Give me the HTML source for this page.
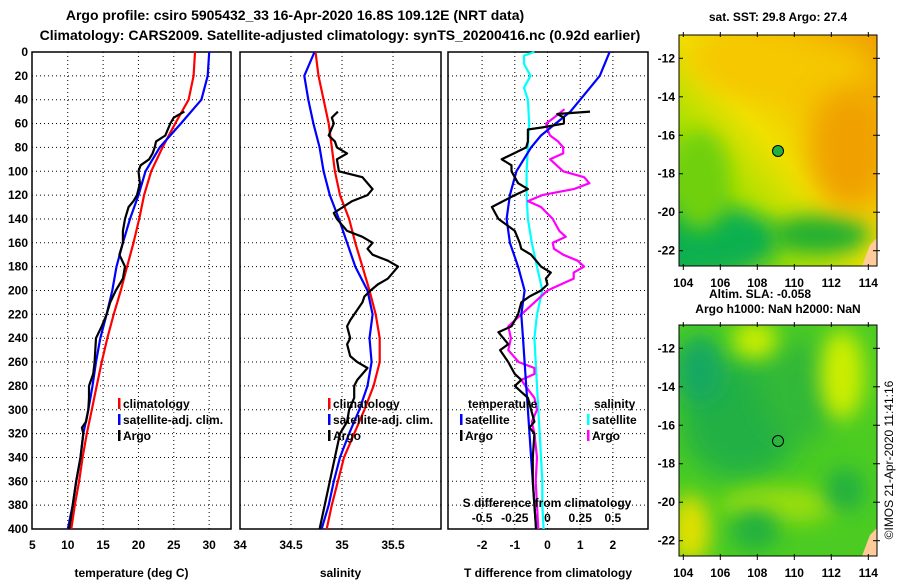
<!DOCTYPE html>
<html><head><meta charset="utf-8"><style>
body{margin:0;background:#fff;}
svg{display:block;font-family:"Liberation Sans",sans-serif;font-weight:bold;}
</style></head><body>
<svg id="c" width="900" height="580" viewBox="0 0 900 580">
<defs>
<filter id="bl" x="-50%" y="-50%" width="200%" height="200%"><feGaussianBlur stdDeviation="14"/></filter>
<filter id="bl2" x="-50%" y="-50%" width="200%" height="200%"><feGaussianBlur stdDeviation="10"/></filter>
<clipPath id="m1"><rect x="679" y="35" width="198" height="231"/></clipPath>
<clipPath id="m2"><rect x="679" y="325" width="198" height="231"/></clipPath>
<linearGradient id="g1" x1="0" y1="1" x2="1" y2="0"><stop offset="0" stop-color="#1fb040"/><stop offset="0.3" stop-color="#a8e000"/><stop offset="0.5" stop-color="#f0e000"/><stop offset="0.7" stop-color="#f5c000"/><stop offset="1" stop-color="#f0a000"/></linearGradient>
</defs>
<text x="295" y="20" font-size="14" text-anchor="middle">Argo profile: csiro 5905432_33 16-Apr-2020 16.8S 109.12E (NRT data)</text>
<text x="340" y="40" font-size="14" text-anchor="middle">Climatology: CARS2009. Satellite-adjusted climatology: synTS_20200416.nc (0.92d earlier)</text>
<g id="p1"></g>
<g id="p2"></g>
<g id="p3"></g>
<g id="maps">
<text x="778" y="21" font-size="12" text-anchor="middle">sat. SST: 29.8 Argo: 27.4</text>
<g clip-path="url(#m1)">
<rect x="679" y="35" width="198" height="231" fill="url(#g1)"/>
<ellipse cx="700" cy="240" rx="80" ry="35" fill="#10b050" filter="url(#bl2)"/>
<ellipse cx="820" cy="235" rx="50" ry="20" fill="#20b030" filter="url(#bl2)"/>
<ellipse cx="700" cy="180" rx="30" ry="50" fill="#70d010" filter="url(#bl2)"/>
<ellipse cx="790" cy="70" rx="80" ry="30" fill="#f5c800" filter="url(#bl)"/>
<ellipse cx="850" cy="150" rx="40" ry="60" fill="#f0a000" filter="url(#bl)"/>
<ellipse cx="745" cy="60" rx="60" ry="25" fill="#f5c800" filter="url(#bl)"/>
<polygon points="877,238 870,245 862,266 877,266" fill="#ffcc99"/>
</g>
<rect x="679" y="35" width="198" height="231" fill="none" stroke="#000"/>
<circle cx="778" cy="151" r="5.5" fill="#20b040" stroke="#000"/>
<text x="760" y="298" font-size="12" text-anchor="middle">Altim. SLA: -0.058</text>
<text x="778" y="313" font-size="12" text-anchor="middle">Argo h1000: NaN h2000: NaN</text>
<g clip-path="url(#m2)">
<rect x="679" y="325" width="198" height="231" fill="#4ccc22"/>
<ellipse cx="740" cy="420" rx="60" ry="60" fill="#22b044" filter="url(#bl)"/>
<ellipse cx="700" cy="370" rx="25" ry="35" fill="#15a860" filter="url(#bl2)"/>
<ellipse cx="800" cy="390" rx="40" ry="50" fill="#30b838" filter="url(#bl)"/>
<ellipse cx="755" cy="340" rx="22" ry="18" fill="#ccee00" filter="url(#bl2)"/>
<ellipse cx="842" cy="375" rx="22" ry="45" fill="#ccee00" filter="url(#bl2)"/>
<ellipse cx="690" cy="530" rx="20" ry="35" fill="#e0e000" filter="url(#bl2)"/>
<ellipse cx="780" cy="505" rx="60" ry="18" fill="#99dd10" filter="url(#bl2)"/>
<ellipse cx="755" cy="530" rx="25" ry="20" fill="#22b040" filter="url(#bl2)"/>
<ellipse cx="845" cy="490" rx="20" ry="22" fill="#22b040" filter="url(#bl2)"/>
<polygon points="877,528 870,535 862,556 877,556" fill="#ffcc99"/>
</g>
<rect x="679" y="325" width="198" height="231" fill="none" stroke="#000"/>
<circle cx="778" cy="441" r="5.5" fill="none" stroke="#000"/>
<text transform="translate(893,460) rotate(-90)" font-size="12" font-weight="normal" text-anchor="middle">©IMOS 21-Apr-2020 11:41:16</text>
</g>
</svg>
<script>
const depths=[0,20,40,60,80,100,120,140,160,180,200,220,240,260,280,300,320,340,360,380,400];
const tClim=[28,27.8,27.1,25.2,23.4,21.8,20.8,20.1,19.3,18.4,17.5,16.5,15.6,14.8,14.1,13.4,12.7,12.1,11.6,11.0,10.5];
const tSat=[30,29.8,28.9,26.0,23.0,21.0,20.0,18.8,17.8,16.9,16.3,15.5,14.6,14.0,13.5,12.9,12.2,11.8,11.2,10.7,10.0];
const argoDepths=[50,55,60,70,75,80,85,90,95,100,110,120,125,130,140,150,160,170,180,190,200,210,220,230,240,250,260,270,280,290,300,310,315,320,340,360,380,400];
const tArgo=[26.5,25,24.5,23.8,22.5,22.3,22,21.5,20.3,20,20.2,19.8,19.3,18.6,18.1,17.8,17.8,17.3,18.1,17.8,16.8,16,15.5,14.8,14,13.9,13.8,13.6,13,13,12.9,12.6,12,12.2,11.8,11.2,10.7,10.2];
const sClim=[34.74,34.77,34.82,34.87,34.9,34.93,34.98,35.07,35.13,35.2,35.27,35.33,35.37,35.37,35.31,35.22,35.12,35.02,34.96,34.9,34.85];
const sSat=[34.73,34.63,34.67,34.72,34.78,34.82,34.88,34.97,35.05,35.13,35.25,35.3,35.27,35.29,35.25,35.17,35.07,34.98,34.92,34.87,34.8];
const sArgoDepths=[50,55,60,70,75,80,85,90,100,105,115,120,125,135,140,145,150,155,160,165,170,175,180,185,190,195,200,205,210,220,225,230,240,245,255,260,265,275,280,290,300,310,320,340,360,380,400];
const sArgo=[34.96,34.9,34.92,34.87,34.93,34.95,35.05,34.95,34.97,35.2,35.3,35.25,35.1,34.92,34.95,35,35.05,35.2,35.3,35.25,35.3,35.45,35.55,35.5,35.45,35.35,35.28,35.22,35.2,35.12,35.08,35.05,35.08,35.05,35.08,35.15,35.25,35.15,35.12,35.12,35.07,35.05,34.98,34.93,34.88,34.83,34.78];
const dtSatDepths=[0,20,40,50,60,70,80,100,120,140,160,180,200,220,240,260,280,300,320,340,360,380,400];
const dtSat=[1.9,1.6,1.0,0.7,0.25,-0.2,-0.5,-0.95,-1.15,-1.25,-1.15,-0.9,-0.7,-0.8,-0.75,-0.7,-0.65,-0.6,-0.55,-0.5,-0.45,-0.4,-0.35];
const dtArgoDepths=[50,52,55,60,63,65,75,80,90,95,100,110,115,120,130,140,150,160,165,170,180,185,190,195,200,205,210,220,230,235,245,250,260,270,275,280,285,290,300,310,315,320,340,360,380,400];
const dtArgo=[1.3,0.3,0.5,0.5,-0.1,-0.6,-0.6,-0.65,-1.4,-1.1,-1.1,-0.9,-0.6,-1.0,-1.7,-1.5,-1.0,-0.85,-0.8,-0.5,-0.2,0.1,-0.05,0,-0.2,-0.55,-0.8,-0.9,-1.1,-1.5,-1.2,-1.45,-1.2,-1.0,-0.8,-1.0,-0.8,-0.6,-0.5,-0.4,-0.55,-0.4,-0.45,-0.45,-0.4,-0.35];
const dsSatDepths=[0,3,10,20,30,40,60,80,100,120,140,160,180,200,220,240,260,280,300,320,340,360,380,400];
const dsSat=[-0.1,-0.18,-0.18,-0.13,-0.18,-0.15,-0.14,-0.15,-0.16,-0.16,-0.15,-0.12,-0.08,-0.04,-0.08,-0.1,-0.09,-0.08,-0.07,-0.06,-0.05,-0.04,-0.04,-0.03];
const dsArgoDepths=[48,55,60,65,70,75,80,85,90,100,105,110,115,120,125,130,140,150,155,160,165,170,175,180,185,190,195,200,210,220,230,240,250,260,265,270,275,280,290,300,310,320,340,360,380,400];
const dsArgo=[0.13,0.05,-0.01,0,0.02,0.08,0.12,0.12,0.02,0.12,0.28,0.32,0.2,-0.04,-0.15,-0.05,0.04,0.09,0.14,0.04,0.05,0.12,0.23,0.28,0.2,0.2,0.1,0,-0.1,-0.2,-0.3,-0.28,-0.3,-0.22,-0.1,-0.1,-0.2,-0.17,-0.1,-0.08,-0.12,-0.1,-0.08,-0.09,-0.08,-0.07];
const depthTicks=[0,20,40,60,80,100,120,140,160,180,200,220,240,260,280,300,320,340,360,380,400];
const tTicks=[5,10,15,20,25,30];
const sTicks=[34,34.5,35,35.5];
const dtTicks=[-2,-1,0,1,2];
const dsTicks=[-0.5,-0.25,0,0.25,0.5];
const latTicks=[-12,-14,-16,-18,-20,-22];
const lonTicks=[104,106,108,110,112,114];

const NS='http://www.w3.org/2000/svg';
const Y0=52,Y1=529;
const yD=d=>Y0+(d/400)*(Y1-Y0);
const xT=t=>32.4+(t-5)*7.07;
const xS=s=>240+(s-34)*102;
const xDT=t=>547.5+t*32.7;
const xDS=s=>547.5+s*4*32.7;
function mk(tag,attrs,parent,txt){const e=document.createElementNS(NS,tag);for(const k in attrs)e.setAttribute(k,attrs[k]);if(txt!==undefined)e.textContent=txt;parent.appendChild(e);return e;}
function line(g,xs,ds,fx,col,name){const pts=xs.map((v,i)=>fx(v).toFixed(1)+','+yD(ds[i]).toFixed(1)).join(' ');const e=mk('polyline',{points:pts,fill:'none',stroke:col,'stroke-width':2.2,'stroke-linejoin':'round'},g);

}
function frame(g,x0,x1,xt,fx,lblY,title,showDepth){
 depthTicks.forEach(d=>{if(d>0&&d<400){const e=mk('line',{x1:x0,x2:x1,y1:yD(d),y2:yD(d),stroke:'#000','stroke-dasharray':'1,3','stroke-width':1},g);
 
 }
 if(showDepth){const t=mk('text',{x:28,y:yD(d)+4,'font-size':12,'text-anchor':'end'},g,d);
 
 }});
 xt.forEach(v=>{const x=fx(v);if(x>x0+2&&x<x1-2){const e=mk('line',{x1:x,x2:x,y1:Y0,y2:Y1,stroke:'#000','stroke-dasharray':'1,3'},g);
 
 }
 if(lblY){const t=mk('text',{x:x,y:lblY,'font-size':12,'text-anchor':'middle'},g,v);
 
 }});
 const r=mk('rect',{x:x0,y:Y0,width:x1-x0,height:Y1-Y0,fill:'none',stroke:'#000','stroke-width':1.5},g);
 
 
 const tt=mk('text',{x:(x0+x1)/2,y:577,'font-size':12,'text-anchor':'middle'},g,title);
 
 }
function legend(g,x,y,col,txt){const b=mk('rect',{x:x,y:y-10,width:2.5,height:11,fill:col},g);
 
 
 const t=mk('text',{x:x+5,y:y,'font-size':12},g,txt);
 
 }
const p1=document.getElementById('p1'),p2=document.getElementById('p2'),p3=document.getElementById('p3');
frame(p1,32,231,tTicks,xT,549,'temperature (deg C)',true);
line(p1,tClim,depths,xT,'#f00','temp-climatology-line');
line(p1,tSat,depths,xT,'#00f','temp-satellite-line');
line(p1,tArgo,argoDepths,xT,'#000','temp-argo-line');
legend(p1,118,408,'#f00','climatology');legend(p1,118,424,'#00f','satellite-adj. clim.');legend(p1,118,440,'#000','Argo');
frame(p2,240,441,sTicks,xS,549,'salinity',false);
line(p2,sClim,depths,xS,'#f00','sal-climatology-line');
line(p2,sSat,depths,xS,'#00f','sal-satellite-line');
line(p2,sArgo,sArgoDepths,xS,'#000','sal-argo-line');
legend(p2,328,408,'#f00','climatology');legend(p2,328,424,'#00f','satellite-adj. clim.');legend(p2,328,440,'#000','Argo');
frame(p3,448,648,dtTicks,xDT,549,'T difference from climatology',false);
line(p3,dsSat,dsSatDepths,xDS,'#0ff','sdiff-satellite-line');
line(p3,dsArgo,dsArgoDepths,xDS,'#f0f','sdiff-argo-line');
line(p3,dtSat,dtSatDepths,xDT,'#00f','tdiff-satellite-line');
line(p3,dtArgo,dtArgoDepths,xDT,'#000','tdiff-argo-line');
{const t=mk('text',{x:547,y:507,'font-size':12,'text-anchor':'middle'},p3,'S difference from climatology');

}
dsTicks.forEach(v=>{const t=mk('text',{x:xDS(v),y:522,'font-size':12,'text-anchor':'middle'},p3,v);

});
{const t=mk('text',{x:468,y:408,'font-size':12},p3,'temperature');


const t2=mk('text',{x:594,y:408,'font-size':12},p3,'salinity');

}
legend(p3,460,424,'#00f','satellite');legend(p3,460,440,'#000','Argo');
legend(p3,587,424,'#0ff','satellite');legend(p3,587,440,'#f0f','Argo');
const maps=document.getElementById('maps');
const latY=l=>58.3+(-12-l)*19.24, lonX=l=>683.3+(l-104)*18.5;
[35,325].forEach((top,mi)=>{
 latTicks.forEach(l=>{const y=top-35+latY(l);
  mk('line',{x1:679,x2:683,y1:y,y2:y,stroke:'#000'},maps);mk('line',{x1:873,x2:880,y1:y,y2:y,stroke:'#000'},maps);
  const t=mk('text',{x:675,y:y+4,'font-size':12,'text-anchor':'end'},maps,l);
  
  });
 lonTicks.forEach(l=>{const x=lonX(l);
  mk('line',{x1:x,x2:x,y1:top-3,y2:top+2,stroke:'#000'},maps);mk('line',{x1:x,x2:x,y1:top+229,y2:top+235,stroke:'#000'},maps);
  const t=mk('text',{x:x,y:top+252,'font-size':12,'text-anchor':'middle'},maps,l);
  
  });
});
</script>
</body></html>
